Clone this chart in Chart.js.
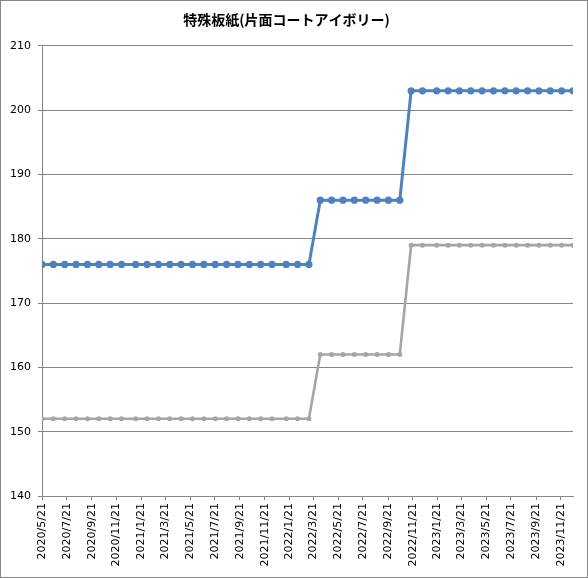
<!DOCTYPE html>
<html>
<head>
<meta charset="utf-8">
<script src="https://cdn.jsdelivr.net/npm/chart.js@4.4.1/dist/chart.umd.min.js"></script>
<style>
  html, body { margin: 0; padding: 0; background: #fff; }
  #c { display: block; }
</style>
</head>
<body>
<canvas id="c" width="588" height="578"></canvas>
<script>
const chartTitle = '特殊板紙(片面コートアイボリー)';

const dates = [
  '2020/5/21','2020/6/18','2020/7/16','2020/8/13','2020/9/10','2020/10/8','2020/11/5','2020/12/3',
  '2021/1/7','2021/2/4','2021/3/4','2021/4/1','2021/4/29','2021/5/27','2021/6/24','2021/7/22',
  '2021/8/19','2021/9/16','2021/10/14','2021/11/11','2021/12/9','2022/1/13','2022/2/10','2022/3/10',
  '2022/4/7','2022/5/5','2022/6/2','2022/6/30','2022/7/28','2022/8/25','2022/9/22','2022/10/20',
  '2022/11/17','2022/12/15','2023/1/19','2023/2/16','2023/3/16','2023/4/13','2023/5/11','2023/6/8',
  '2023/7/6','2023/8/3','2023/8/31','2023/9/28','2023/10/26','2023/11/23','2023/12/21'
];

const seriesBlue = [
  176,176,176,176,176,176,176,176,
  176,176,176,176,176,176,176,176,
  176,176,176,176,176,176,176,176,
  186,186,186,186,186,186,186,186,
  203,203,203,203,203,203,203,203,
  203,203,203,203,203,203,203
];

const seriesGray = [
  152,152,152,152,152,152,152,152,
  152,152,152,152,152,152,152,152,
  152,152,152,152,152,152,152,152,
  162,162,162,162,162,162,162,162,
  179,179,179,179,179,179,179,179,
  179,179,179,179,179,179,179
];

const xTickLabels = [
  '2020/5/21','2020/7/21','2020/9/21','2020/11/21','2021/1/21','2021/3/21','2021/5/21',
  '2021/7/21','2021/9/21','2021/11/21','2022/1/21','2022/3/21','2022/5/21','2022/7/21',
  '2022/9/21','2022/11/21','2023/1/21','2023/3/21','2023/5/21','2023/7/21','2023/9/21','2023/11/21'
];

const yMin = 140, yMax = 210, yStep = 10;

function dayNum(s) {
  const p = s.split('/').map(Number);
  return Math.round(Date.UTC(p[0], p[1] - 1, p[2]) / 86400000);
}

const toPoints = (vals) => vals.map((v, i) => ({ x: dayNum(dates[i]), y: v }));

const gridColor = '#868686';

const bgBorder = {
  id: 'bgBorder',
  beforeDraw(chart) {
    const ctx = chart.ctx;
    ctx.save();
    ctx.fillStyle = '#ffffff';
    ctx.fillRect(0, 0, chart.width, chart.height);
    ctx.restore();
  },
  afterDraw(chart) {
    const ctx = chart.ctx;
    ctx.save();
    ctx.strokeStyle = gridColor;
    ctx.lineWidth = 1;
    ctx.strokeRect(0.5, 0.5, chart.width - 1, chart.height - 1);
    ctx.restore();
  }
};

new Chart(document.getElementById('c'), {
  type: 'line',
  data: {
    datasets: [
      {
        label: 'シリーズ1',
        data: toPoints(seriesBlue),
        borderColor: '#4F81BD',
        backgroundColor: '#4F81BD',
        borderWidth: 3,
        pointRadius: 3.6,
        pointBorderWidth: 0,
        pointBackgroundColor: '#4F81BD',
        tension: 0
      },
      {
        label: 'シリーズ2',
        data: toPoints(seriesGray),
        borderColor: '#A5A5A5',
        backgroundColor: '#A5A5A5',
        borderWidth: 2.6,
        pointRadius: 2.5,
        pointBorderWidth: 0,
        pointBackgroundColor: '#A5A5A5',
        tension: 0
      }
    ]
  },
  options: {
    responsive: false,
    animation: false,
    devicePixelRatio: 1,
    layout: { padding: { left: 0, right: 15, top: 0, bottom: 0 } },
    plugins: {
      legend: { display: false },
      tooltip: { enabled: false },
      title: {
        display: true,
        text: chartTitle,
        color: '#000',
        font: { family: '"Noto Sans CJK JP", sans-serif', size: 14, weight: 'bold', lineHeight: 1.2 },
        padding: { top: 11, bottom: 18 }
      }
    },
    scales: {
      x: {
        type: 'linear',
        min: dayNum(dates[0]),
        max: dayNum(dates[dates.length - 1]),
        afterBuildTicks(scale) {
          scale.ticks = xTickLabels.map(s => ({ value: dayNum(s) }));
        },
        afterFit(scale) { scale.height = 82; },
        border: { display: true, color: gridColor, width: 1 },
        grid: { drawOnChartArea: false, drawTicks: true, tickLength: 4, color: gridColor },
        ticks: {
          autoSkip: false,
          minRotation: 90,
          maxRotation: 90,
          padding: 3,
          color: '#000',
          font: { family: '"DejaVu Sans", sans-serif', size: 11 },
          callback: (v, i) => xTickLabels[i]
        }
      },
      y: {
        min: yMin,
        max: yMax,
        afterFit(scale) { scale.width = 42; },
        border: { display: true, color: gridColor, width: 1 },
        grid: { color: gridColor, lineWidth: 1, drawTicks: true, tickLength: 4 },
        ticks: {
          stepSize: yStep,
          padding: 7,
          color: '#000',
          font: { family: '"DejaVu Sans", sans-serif', size: 11 }
        }
      }
    }
  },
  plugins: [bgBorder]
});
</script>
</body>
</html>
